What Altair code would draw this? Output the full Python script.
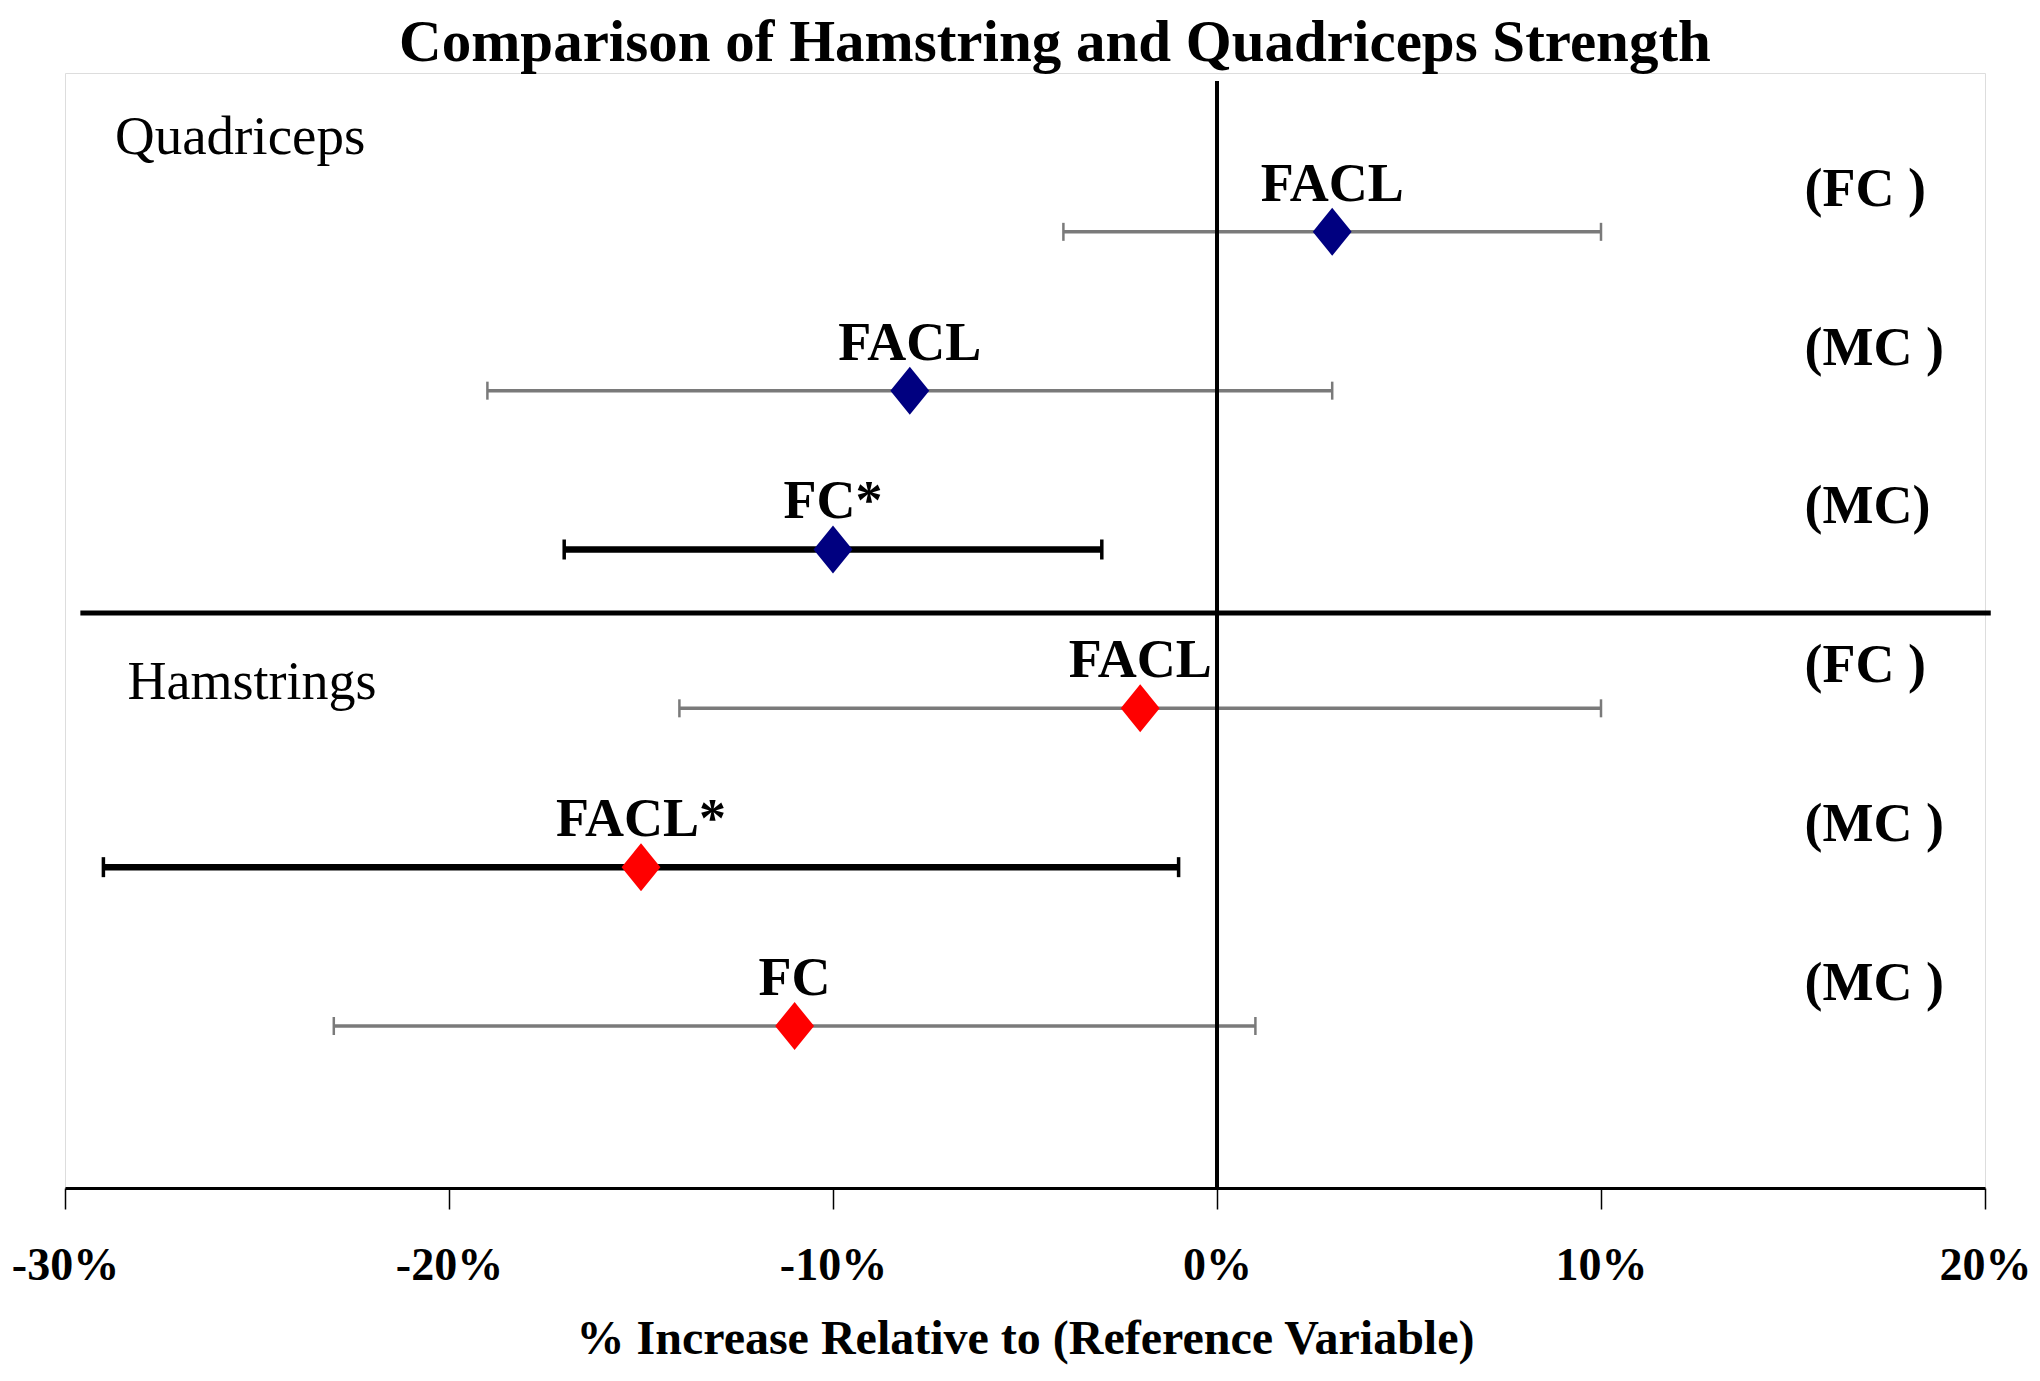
import altair as alt
import pandas as pd

# ---- data ----
rows = [1, 2, 3, 4, 5, 6]
muscle = ["Quadriceps", "Quadriceps", "Quadriceps", "Hamstrings", "Hamstrings", "Hamstrings"]
point_labels = ["FACL", "FACL", "FC*", "FACL", "FACL*", "FC"]
ref_labels = ["(FC )", "(MC )", "(MC)", "(FC )", "(MC )", "(MC )"]
means = [3, -8, -10, -2, -15, -11]
lows = [-4, -19, -17, -14, -29, -23]
highs = [10, 3, -3, 10, -1, 1]
significant = [False, False, True, False, True, False]
x_ticks = [-30, -20, -10, 0, 10, 20]
groups = ["Quadriceps", "Hamstrings"]
group_colors = ["#000080", "#ff0000"]
title_text = "Comparison of Hamstring and Quadriceps Strength"
x_title = "% Increase Relative to (Reference Variable)"

df = pd.DataFrame({
    "row": rows, "muscle": muscle, "label": point_labels, "ref": ref_labels,
    "mean": means, "low": lows, "high": highs, "sig": significant,
})

SERIF = "Liberation Serif"
W, H = 1920, 1115
X_DOMAIN = [-30, 20]
Y_DOMAIN = [0, 7.02]
xs = alt.Scale(domain=X_DOMAIN, nice=False, zero=False)
ys = alt.Scale(domain=Y_DOMAIN, reverse=True, nice=False, zero=False)

x_axis = alt.Axis(
    values=x_ticks, labelExpr="datum.value + '%'", grid=False, labelFlush=False,
    labelFont=SERIF, labelFontSize=46, labelFontWeight="bold", labelColor="black",
    tickSize=21, tickColor="black", tickWidth=1.5,
    domainColor="black", domainWidth=3,
    labelPadding=34, titlePadding=27,
    title=x_title,
    titleFont=SERIF, titleFontSize=48, titleFontWeight="bold", titleColor="black",
)

base = alt.Chart(df)
Y = alt.Y("row:Q", scale=ys, axis=None)

# error bars (thin grey / bold black)
def bars(flag, color, width, cap_th, cap_len):
    sub = base.transform_filter(alt.datum.sig == flag)
    line = sub.mark_rule(color=color, strokeWidth=width).encode(
        x=alt.X("low:Q", scale=xs, axis=x_axis), x2="high:Q", y=Y)
    caps = sub.transform_fold(["low", "high"], as_=["end", "val"]).mark_tick(
        color=color, thickness=cap_th, size=cap_len, orient="vertical", opacity=1
    ).encode(x=alt.X("val:Q", scale=xs, axis=x_axis), y=Y)
    return line + caps

thin = bars(False, "#7a7a7a", 3.5, 2.5, 18)
bold = bars(True, "black", 6.5, 3.5, 20)

zero_line = alt.Chart().mark_rule(color="black", strokeWidth=4).encode(
    x=alt.XDatum(0, scale=xs, axis=x_axis), y=alt.YDatum(0.05, scale=ys, axis=None),
    y2=alt.Y2Datum(Y_DOMAIN[1]))
separator = alt.Chart().mark_rule(color="black", strokeWidth=5).encode(
    y=alt.YDatum(3.4, scale=ys, axis=None), x=alt.XDatum(-29.6, scale=xs, axis=x_axis),
    x2=alt.X2Datum(20.15))

diamond = "M-0.81,0L0,-1L0.81,0L0,1Z"
points = base.mark_point(filled=True, shape=diamond, size=2304, opacity=1).encode(
    x=alt.X("mean:Q", scale=xs, axis=x_axis), y=Y,
    color=alt.Color("muscle:N", scale=alt.Scale(domain=groups, range=group_colors), legend=None))

plabels = base.mark_text(font=SERIF, fontSize=54, fontWeight="bold", color="black",
                         align="center", baseline="alphabetic", dy=-31).encode(
    x=alt.X("mean:Q", scale=xs, axis=x_axis), y=Y, text="label:N")

rlabels = base.mark_text(font=SERIF, fontSize=54, fontWeight="bold", color="black",
                         align="left", baseline="alphabetic", dy=-26).encode(
    x=alt.XDatum(15.3, scale=xs, axis=x_axis), y=Y, text="ref:N")

quad_lab = alt.Chart().mark_text(font=SERIF, fontSize=55, color="black", align="left",
                                 baseline="alphabetic").encode(
    x=alt.XDatum(-28.7, scale=xs, axis=x_axis), y=alt.YDatum(0.508, scale=ys, axis=None),
    text=alt.value(groups[0]))
ham_lab = alt.Chart().mark_text(font=SERIF, fontSize=54, color="black", align="left",
                                baseline="alphabetic").encode(
    x=alt.XDatum(-28.37, scale=xs, axis=x_axis), y=alt.YDatum(3.94, scale=ys, axis=None),
    text=alt.value(groups[1]))

# chart title drawn as a text mark above the plot area
title = alt.Chart().mark_text(font=SERIF, fontSize=59, fontWeight="bold", color="black",
                              align="center", baseline="alphabetic").encode(
    x=alt.value(W / 2 + 30), y=alt.value(-12), text=alt.value(title_text))

chart = alt.layer(
    thin, bold, zero_line, separator, points, plabels, rlabels, quad_lab, ham_lab, title
).properties(
    width=W, height=H,
    autosize=alt.AutoSizeParams(type="none"),
    padding={"left": 57, "top": 65, "right": 47, "bottom": 178},
).configure_view(stroke="#7f7f7f", strokeWidth=3).configure(background="white")

chart.save("out.html", embed_options={"renderer": "svg", "actions": False})
